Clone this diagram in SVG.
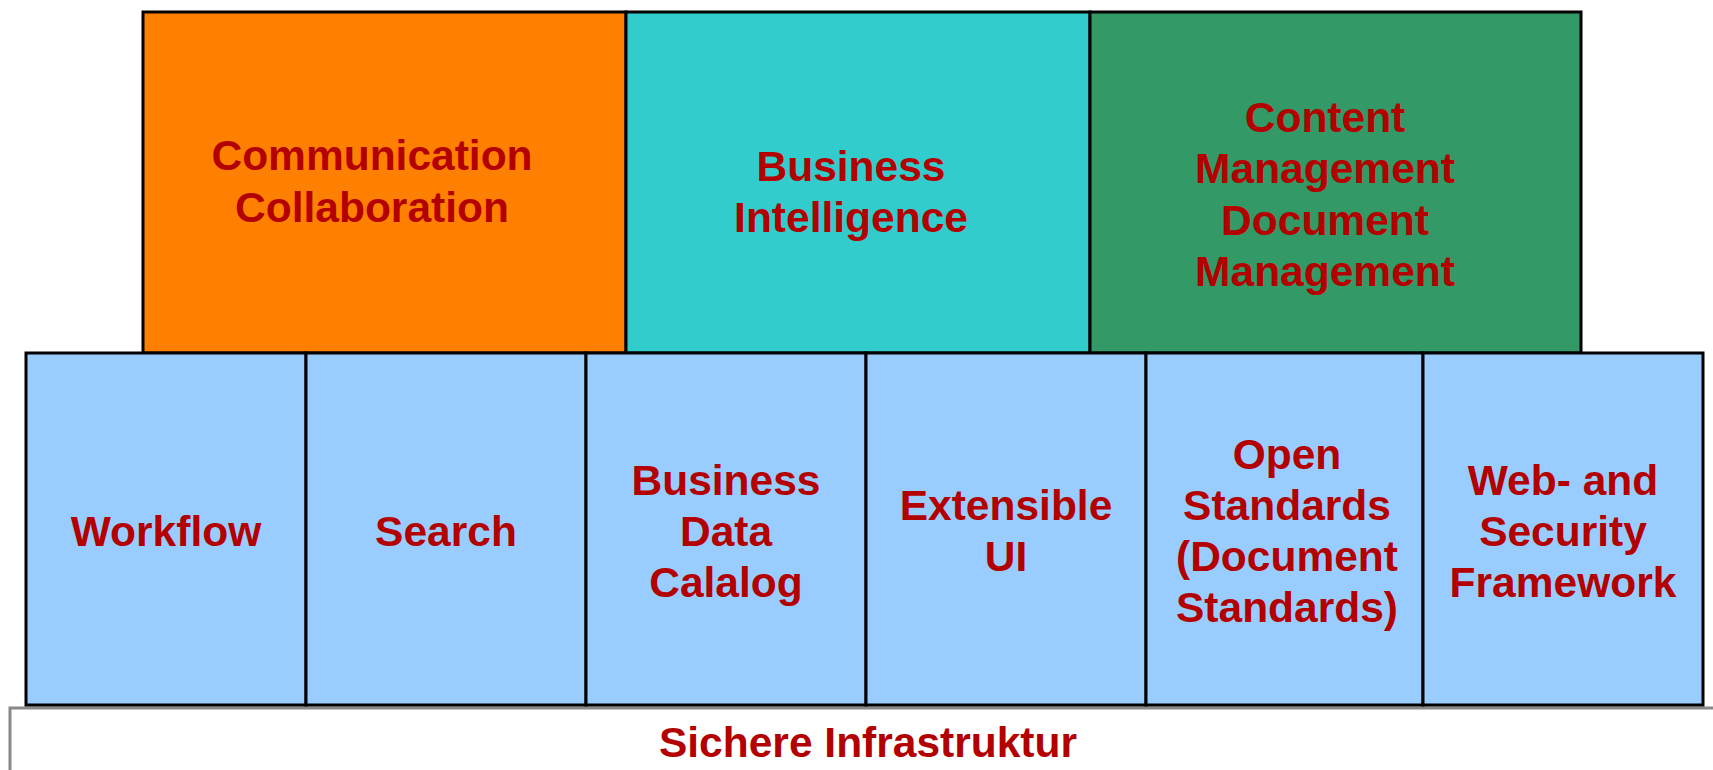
<svg xmlns="http://www.w3.org/2000/svg" width="1713" height="770" viewBox="0 0 1713 770">
<style>
.box{stroke:#000;stroke-width:3}
.t{font-family:"Liberation Sans",Arial,sans-serif;font-weight:bold;font-size:42.5px;fill:#B30000;text-anchor:middle}
</style>
<rect x="0" y="0" width="1713" height="770" fill="#fff"/>
<g id="infra">
<rect x="10" y="708" width="1720" height="80" fill="#fff" stroke="#888" stroke-width="3"/>
<text class="t" x="868" y="757">Sichere Infrastruktur</text>
</g>
<g id="communication">
<rect class="box" x="143" y="12" width="483" height="341" fill="#FF8000"/>
<text class="t" x="372" y="170">Communication</text>
<text class="t" x="372" y="222">Collaboration</text>
</g>
<g id="bi">
<rect class="box" x="626" y="12" width="464" height="341" fill="#33CCCC"/>
<text class="t" x="851" y="180.5">Business</text>
<text class="t" x="851" y="232">Intelligence</text>
</g>
<g id="cm">
<rect class="box" x="1090" y="12" width="491" height="341" fill="#339966"/>
<text class="t" x="1325" y="131.5">Content</text>
<text class="t" x="1325" y="183">Management</text>
<text class="t" x="1325" y="234.5">Document</text>
<text class="t" x="1325" y="286">Management</text>
</g>
<g id="workflow">
<rect class="box" x="26" y="353" width="280" height="352" fill="#99CCFF"/>
<text class="t" x="166" y="546">Workflow</text>
</g>
<g id="search">
<rect class="box" x="306" y="353" width="280" height="352" fill="#99CCFF"/>
<text class="t" x="446" y="546">Search</text>
</g>
<g id="bdc">
<rect class="box" x="586" y="353" width="280" height="352" fill="#99CCFF"/>
<text class="t" x="726" y="495">Business</text>
<text class="t" x="726" y="546">Data</text>
<text class="t" x="726" y="597">Calalog</text>
</g>
<g id="ui">
<rect class="box" x="866" y="353" width="280" height="352" fill="#99CCFF"/>
<text class="t" x="1006" y="520">Extensible</text>
<text class="t" x="1006" y="571">UI</text>
</g>
<g id="open">
<rect class="box" x="1146" y="353" width="277" height="352" fill="#99CCFF"/>
<text class="t" x="1287" y="468.5">Open</text>
<text class="t" x="1287" y="520">Standards</text>
<text class="t" x="1287" y="571">(Document</text>
<text class="t" x="1287" y="622">Standards)</text>
</g>
<g id="web">
<rect class="box" x="1423" y="353" width="280" height="352" fill="#99CCFF"/>
<text class="t" x="1563" y="494.5">Web- and</text>
<text class="t" x="1563" y="546">Security</text>
<text class="t" x="1563" y="597">Framework</text>
</g>
<g id="connectors"></g>
</svg>
